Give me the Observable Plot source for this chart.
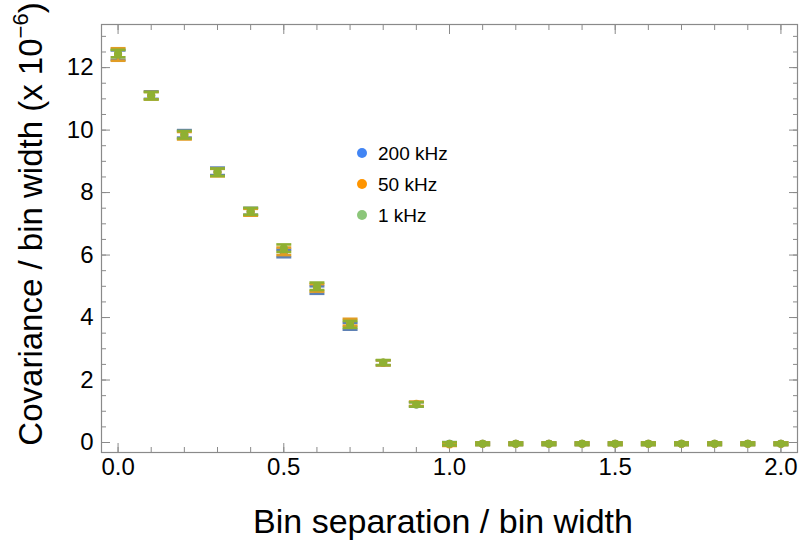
<!DOCTYPE html>
<html><head><meta charset="utf-8">
<script src="https://cdn.jsdelivr.net/npm/d3@7"></script>
<script src="https://cdn.jsdelivr.net/npm/@observablehq/plot@0.6"></script>
<style>
body{margin:0;background:#fff;}
#chart{position:relative;width:801px;height:548px;font-family:"Liberation Sans",Arial,sans-serif;}
.legend{position:absolute;left:357px;top:137.5px;font-size:19px;line-height:31px;color:#000;}
.legend .row{display:flex;align-items:center;height:31px;}
.legend .d{width:10px;height:10px;border-radius:50%;display:inline-block;margin-right:11px;}
</style></head>
<body><div id="chart"></div>
<script>
// ---- data ----
const binSep = [0.0,0.1,0.2,0.3,0.4,0.5,0.6,0.7,0.8,0.9,1.0,1.1,1.2,1.3,1.4,1.5,1.6,1.7,1.8,1.9,2.0];
const cov200 = [12.40,11.12,9.88,8.68,7.40,6.05,4.88,3.72,2.55,1.22,-0.04,-0.04,-0.04,-0.04,-0.04,-0.04,-0.04,-0.04,-0.04,-0.04,-0.04];
const err200 = [0.15,0.12,0.12,0.12,0.11,0.12,0.12,0.11,0.08,0.07,0.05,0.04,0.04,0.04,0.04,0.04,0.04,0.04,0.04,0.04,0.04];
const cov50  = [12.42,11.10,9.82,8.64,7.37,6.12,4.95,3.85,2.55,1.24,-0.06,-0.04,-0.04,-0.04,-0.04,-0.04,-0.04,-0.04,-0.04,-0.04,-0.04];
const err50  = [0.20,0.12,0.12,0.12,0.11,0.12,0.12,0.11,0.08,0.07,0.05,0.04,0.04,0.04,0.04,0.04,0.04,0.04,0.04,0.04,0.04];
const cov1   = [12.45,11.10,9.85,8.65,7.40,6.22,5.00,3.78,2.56,1.22,-0.04,-0.04,-0.04,-0.04,-0.04,-0.04,-0.04,-0.04,-0.04,-0.04,-0.04];
const err1   = [0.12,0.12,0.12,0.12,0.11,0.12,0.12,0.11,0.08,0.07,0.05,0.04,0.04,0.04,0.04,0.04,0.04,0.04,0.04,0.04,0.04];
const seriesNames = ["200 kHz","50 kHz","1 kHz"];
const seriesColors = ["#5E81B5","#E19C24","#8FB032"];
const legendColors = ["#4285F4","#FF9500","#8CC67A"];
const xMajorTicks = [0.0,0.5,1.0,1.5,2.0];
const xMinorTicks = [0.0,0.1,0.2,0.3,0.4,0.5,0.6,0.7,0.8,0.9,1.0,1.1,1.2,1.3,1.4,1.5,1.6,1.7,1.8,1.9,2.0];
const yMajorTicks = [0,2,4,6,8,10,12];
const yMinorTicks = [0,0.5,1,1.5,2,2.5,3,3.5,4,4.5,5,5.5,6,6.5,7,7.5,8,8.5,9,9.5,10,10.5,11,11.5,12,12.5,13];
const xTitle = "Bin separation / bin width";
const yTitleMain = "Covariance / bin width (x 10";
const yTitleSup = "\u22126";

// ---- build ----
const allSeries = [[cov200, err200], [cov50, err50], [cov1, err1]].map(([v, e], s) =>
  binSep.map((x, i) => ({x, y: v[i], lo: v[i] - e[i], hi: v[i] + e[i], s: seriesNames[s]})));

const cap = {draw(ctx, size) { const r = Math.sqrt(size / Math.PI); ctx.moveTo(-r, 0); ctx.lineTo(r, 0); }};

const tickColor = "#8a8a8a";
const marks = [Plot.frame({stroke: tickColor, strokeWidth: 1.2})];
for (const anchor of ["bottom", "top"]) {
  marks.push(Plot.axisX({anchor, ticks: xMinorTicks, tickSize: -5, fill: "none", stroke: tickColor, label: null}));
  marks.push(Plot.axisX({anchor, ticks: xMajorTicks, tickSize: -9, fill: "none", stroke: tickColor, label: null}));
}
for (const anchor of ["left", "right"]) {
  marks.push(Plot.axisY({anchor, ticks: yMinorTicks, tickSize: -5, fill: "none", stroke: tickColor, label: null}));
  marks.push(Plot.axisY({anchor, ticks: yMajorTicks, tickSize: -9, fill: "none", stroke: tickColor, label: null}));
}
marks.push(Plot.axisX({anchor: "bottom", ticks: xMajorTicks, tickSize: 0, tickPadding: 5, tickFormat: d3.format(".1f"), label: null, fill: "#000", fontSize: 24}));
marks.push(Plot.axisY({anchor: "left", ticks: yMajorTicks, tickSize: 0, tickPadding: 8, tickFormat: d => String(d), label: null, fill: "#000", fontSize: 24}));

allSeries.forEach((rows, s) => {
  const c = seriesColors[s];
  marks.push(Plot.ruleX(rows, {x: "x", y1: "lo", y2: "hi", stroke: c, strokeWidth: 2}));
  marks.push(Plot.dot(rows, {x: "x", y: "hi", symbol: cap, r: 7.5, stroke: c, strokeWidth: 2.6, fill: "none"}));
  marks.push(Plot.dot(rows, {x: "x", y: "lo", symbol: cap, r: 7.5, stroke: c, strokeWidth: 2.6, fill: "none"}));
  marks.push(Plot.dot(rows, {x: "x", y: "y", r: 4, fill: c, stroke: "none"}));
});

const chart = Plot.plot({
  width: 801, height: 548,
  marginLeft: 101, marginRight: 4, marginTop: 24, marginBottom: 96,
  x: {domain: [-0.05, 2.05]},
  y: {domain: [-0.32, 13.38]},
  style: {fontFamily: '"Liberation Sans", Arial, sans-serif', fontSize: "24px", color: "#000", background: "#fff", overflow: "visible"},
  marks
});

const svg = d3.select(chart);
svg.append("text")
  .attr("x", 443).attr("y", 533)
  .attr("text-anchor", "middle")
  .attr("font-size", 34).attr("fill", "#000")
  .text(xTitle);
const yt = svg.append("text")
  .attr("transform", "translate(42,224) rotate(-90)")
  .attr("text-anchor", "middle")
  .attr("font-size", 33).attr("fill", "#000");
yt.append("tspan").text(yTitleMain);
yt.append("tspan").attr("font-size", 22).attr("dy", -14).text(yTitleSup);
yt.append("tspan").attr("dy", 14).text(")");

const root = document.getElementById("chart");
root.appendChild(chart);
const legend = document.createElement("div");
legend.className = "legend";
seriesNames.forEach((n, i) => {
  const row = document.createElement("div");
  row.className = "row";
  const dot = document.createElement("span");
  dot.className = "d";
  dot.style.background = legendColors[i];
  row.appendChild(dot);
  row.appendChild(document.createTextNode(n));
  legend.appendChild(row);
});
root.appendChild(legend);
</script>
</body></html>
